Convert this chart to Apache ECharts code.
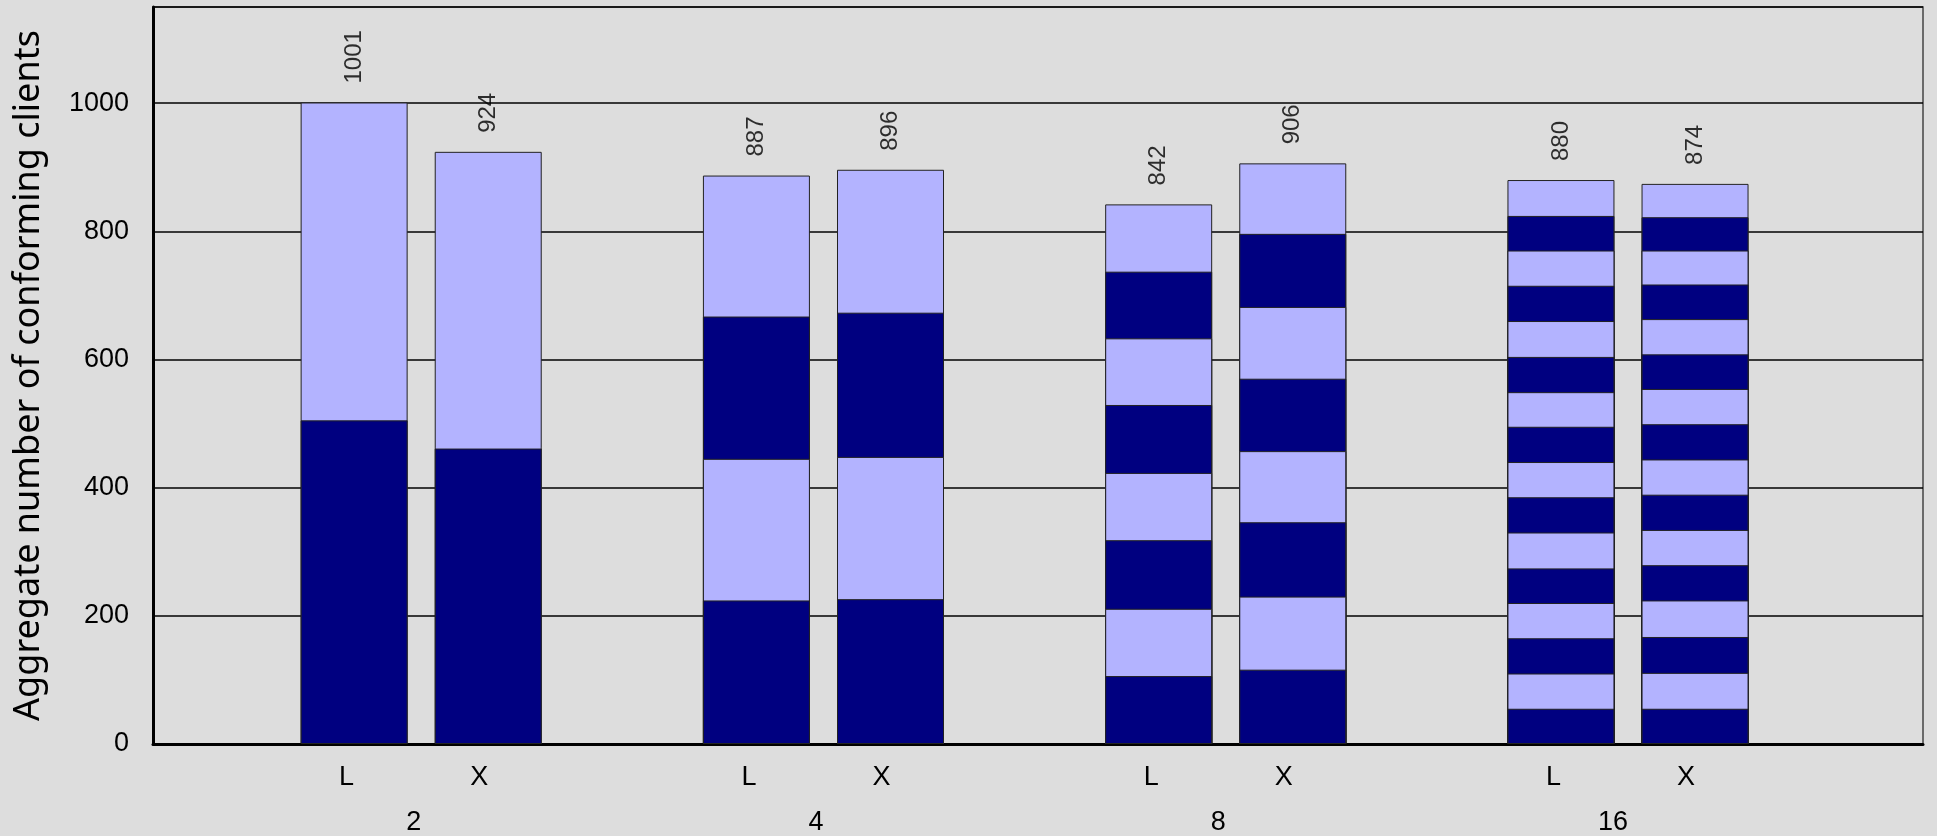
<!DOCTYPE html>
<html style="height: 100%">
<head>
<meta charset="utf-8">
<style type="text/css">
    body, html, #main {width: 100%; height: 100%; margin: 0; overflow: hidden; background: #dddddd;}
</style>
</head>
<body>
<div id="main"></div>
<script type="text/javascript" src="https://cdn.jsdelivr.net/npm/echarts@6/dist/echarts.min.js"></script>
<script type="text/javascript">
// bar order: 2L, 2X, 4L, 4X, 8L, 8X, 16L, 16X
var barPos = [1, 2, 4, 5, 7, 8, 10, 11];
var barNames = ['L', 'X', 'L', 'X', 'L', 'X', 'L', 'X'];
var groupPos = [1.5, 4.5, 7.5, 10.5];
var groupNames = ['2', '4', '8', '16'];
var totals = [1001, 924, 887, 896, 842, 906, 880, 874];

// stacked segments of each bar, bottom to top
var seg2L = [505, 496];
var seg2X = [461, 463];
var seg4L = [224, 221, 222, 220];
var seg4X = [226, 222, 225, 223];
var seg8L = [106, 105, 107, 105, 106, 104, 104, 105];
var seg8X = [116, 114, 116, 111, 113, 112, 114, 110];
var seg16L = [55, 55, 55, 55, 54, 56, 55, 55, 55, 54, 55, 56, 55, 55, 54, 56];
var seg16X = [55, 56, 56, 57, 55, 55, 55, 55, 55, 55, 54, 55, 54, 53, 52, 52];

var bars = [seg2L, seg2X, seg4L, seg4X, seg8L, seg8X, seg16L, seg16X];
var darkColor = '#000080';
var lightColor = '#b3b3ff';
var axisFont = 'Liberation Sans';

var chart = echarts.init(document.getElementById('main'));

// running tops of each segment; drawn tallest first so lower segments cover them
var series = [];
for (var i = 15; i >= 0; i--) {
    var data = [];
    for (var b = 0; b < bars.length; b++) {
        var segs = bars[b];
        if (i >= segs.length) {
            data.push([barPos[b], '-']);
        } else {
            var sum = 0;
            for (var k = 0; k <= i; k++) sum += segs[k];
            data.push([barPos[b], sum]);
        }
    }
    series.push({
        type: 'bar',
        barWidth: 107,
        barGap: '-100%',
        data: data,
        itemStyle: {
            color: i % 2 === 0 ? darkColor : lightColor,
            borderColor: '#222',
            borderWidth: 1
        },
        silent: true
    });
}
// total on top of each bar
var totalData = [];
for (var b = 0; b < bars.length; b++) totalData.push([barPos[b], totals[b]]);
series.push({
    type: 'scatter',
    symbolSize: 0,
    data: totalData,
    silent: true,
    z: 5,
    label: {
        show: true,
        position: 'top',
        distance: 19,
        rotate: 90,
        align: 'left',
        verticalAlign: 'middle',
        fontFamily: axisFont,
        fontSize: 24,
        color: '#000',
        formatter: function (p) { return p.value[1]; }
    }
});

var barLabelMap = {};
for (var b = 0; b < barPos.length; b++) barLabelMap[Math.round(barPos[b] * 2)] = barNames[b];
var groupLabelMap = {};
for (var g = 0; g < groupPos.length; g++) groupLabelMap[Math.round(groupPos[g] * 2)] = groupNames[g];

var option = {
    backgroundColor: '#dddddd',
    animation: false,
    grid: {
        left: 153,
        right: 14,
        top: 7,
        bottom: 92,
        show: true,
        borderColor: '#444',
        borderWidth: 1.5
    },
    xAxis: [{
        type: 'value',
        min: -0.5,
        max: 12.7,
        interval: 0.5,
        position: 'bottom',
        axisLine: {show: true, onZero: false, lineStyle: {color: '#000', width: 3}},
        axisTick: {show: false},
        splitLine: {show: false},
        axisLabel: {
            margin: 20,
            align: 'right',
            fontFamily: axisFont,
            fontSize: 27,
            color: '#000',
            formatter: function (v) { return barLabelMap[Math.round(v * 2)] || ''; }
        }
    }, {
        type: 'value',
        min: -0.5,
        max: 12.7,
        interval: 0.5,
        position: 'bottom',
        offset: 45,
        axisLine: {show: false},
        axisTick: {show: false},
        splitLine: {show: false},
        axisLabel: {
            margin: 20,
            align: 'right',
            fontFamily: axisFont,
            fontSize: 27,
            color: '#000',
            formatter: function (v) { return groupLabelMap[Math.round(v * 2)] || ''; }
        }
    }],
    yAxis: {
        type: 'value',
        min: 0,
        max: 1150,
        interval: 200,
        name: 'Aggregate number of conforming clients',
        nameLocation: 'middle',
        nameGap: 106,
        nameTextStyle: {
            fontFamily: 'Noto Sans',
            fontSize: 36,
            color: '#000'
        },
        axisLine: {show: true, onZero: false, lineStyle: {color: '#000', width: 3}},
        axisTick: {show: false},
        splitLine: {show: true, lineStyle: {color: '#000', width: 1.5}},
        axisLabel: {
            margin: 24,
            fontFamily: axisFont,
            fontSize: 27,
            color: '#000',
            formatter: function (v) { return v % 200 === 0 ? v : ''; }
        }
    },
    series: series
};
chart.setOption(option);
</script>
</body>
</html>
